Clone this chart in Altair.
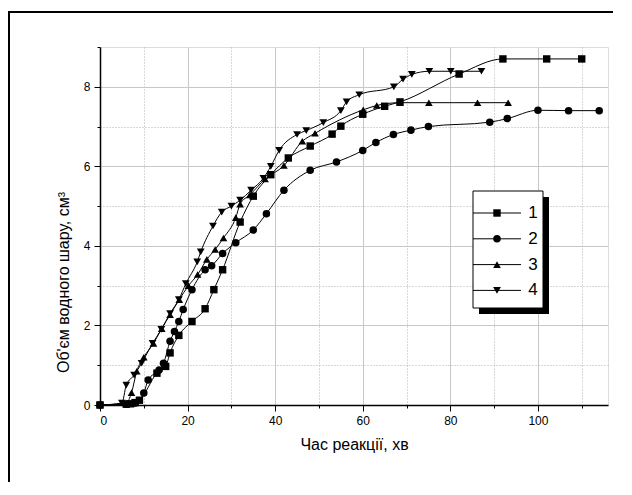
import altair as alt
import pandas as pd

# ---- data ----
x1 = [0, 6, 7, 8, 9, 13, 15, 16, 18, 21, 24, 26, 28, 32, 35, 39, 43, 48, 53, 55, 60, 65, 68.5, 82, 92, 102, 110]
y1 = [0, 0.02, 0.03, 0.06, 0.12, 0.8, 0.97, 1.31, 1.75, 2.1, 2.42, 2.9, 3.4, 4.6, 5.25, 5.79, 6.21, 6.51, 6.81, 7.01, 7.31, 7.51, 7.62, 8.32, 8.7, 8.7, 8.7]

x2 = [0, 6, 8, 10, 11, 13.5, 14.5, 16, 17, 18, 19, 21, 24, 25.5, 28, 31, 35, 38, 42, 48, 54, 60, 63, 67, 71, 75, 89, 93, 100, 107, 114]
y2 = [0, 0.02, 0.05, 0.3, 0.63, 0.88, 1.05, 1.6, 1.85, 2.1, 2.4, 2.9, 3.4, 3.5, 3.81, 4.08, 4.4, 4.81, 5.4, 5.9, 6.11, 6.4, 6.6, 6.8, 6.91, 7.0, 7.11, 7.2, 7.41, 7.4, 7.4]

x3 = [0, 6, 7.2, 8.4, 10, 12.2, 14.1, 16, 18.1, 20.2, 22.3, 24.4, 26.3, 28.2, 31, 32, 34.2, 37.7, 42, 46.2, 49.1, 60.1, 63.2, 68.5, 75.1, 86.2, 93.2]
y3 = [0, 0.05, 0.31, 0.85, 1.2, 1.55, 1.92, 2.27, 2.65, 3.0, 3.28, 3.66, 3.91, 4.2, 4.71, 5.05, 5.28, 5.68, 6.02, 6.63, 6.83, 7.42, 7.53, 7.6, 7.6, 7.6, 7.6]

x4 = [0, 5, 6, 7.8, 9.5, 12, 14, 16, 18, 19.6, 22.2, 23, 25.8, 27.8, 30, 32, 34.5, 37.3, 39, 40.9, 45, 47.1, 51, 55, 56.3, 59.2, 67.1, 69.2, 71.2, 75.2, 80.1, 87.1]
y4 = [0, 0.05, 0.5, 0.75, 1.05, 1.55, 1.9, 2.3, 2.65, 3.05, 3.6, 3.85, 4.5, 4.85, 5.0, 5.15, 5.4, 5.7, 6.0, 6.4, 6.8, 6.9, 7.1, 7.4, 7.62, 7.8, 8.0, 8.19, 8.31, 8.39, 8.39, 8.39]

series_names = ["1", "2", "3", "4"]
series_shapes = ["square", "circle", "triangle-up", "triangle-down"]
series_sizes = [55, 60, 100, 100]

x_title = "Час реакції, хв"
y_title = "Об'єм водного шару, см³"

FONT = "Liberation Sans"

W, H = 508, 358
PAD = {"left": 92, "top": 39, "right": 8, "bottom": 80}
X_MAX, Y_MAX = 116, 9

rows = []
for name, xs, ys in zip(series_names, [x1, x2, x3, x4], [y1, y2, y3, y4]):
    for i, (a, b) in enumerate(zip(xs, ys)):
        rows.append({"series": name, "t": a, "v": b, "order": i})
df = pd.DataFrame(rows)

x_scale = alt.Scale(domain=[0, X_MAX], nice=False, zero=False)
y_scale = alt.Scale(domain=[0, Y_MAX], nice=False, zero=False)
shape_scale = alt.Scale(domain=series_names, range=series_shapes)
size_scale = alt.Scale(domain=series_names, range=series_sizes)

x_axis = alt.Axis(
    values=list(range(0, 111, 10)),
    labelExpr="datum.value % 20 === 0 ? datum.label : ''",
    tickSize={"condition": {"test": "datum.value % 20 === 0", "value": 6}, "value": 3},
    gridDash={"condition": {"test": "datum.value % 20 === 0", "value": []}, "value": [1, 2]},
    gridColor={"condition": {"test": "datum.value % 20 === 0", "value": "#c8c8c8"}, "value": "#b0b0b0"},
    grid=True,
    domainColor="black", tickColor="black", domainWidth=1.5,
    labelFont=FONT, labelFontSize=12, labelColor="black", labelPadding=4,
    title=x_title, titleFont=FONT, titleFontSize=16, titleFontWeight="normal",
    titleColor="black", titlePadding=10,
)
y_axis = alt.Axis(
    values=list(range(0, 10)),
    labelExpr="datum.value % 2 === 0 ? datum.label : ''",
    tickSize={"condition": {"test": "datum.value % 2 === 0", "value": 6}, "value": 3},
    gridDash={"condition": {"test": "datum.value % 2 === 0", "value": []}, "value": [1, 2]},
    gridColor={"condition": {"test": "datum.value % 2 === 0", "value": "#c8c8c8"}, "value": "#b0b0b0"},
    gridOpacity={"condition": {"test": "datum.value === 9", "value": 0}, "value": 1},
    grid=True,
    domainColor="black", tickColor="black", domainWidth=1.5,
    labelFont=FONT, labelFontSize=12, labelColor="black", labelPadding=4,
    title=y_title, titleFont=FONT, titleFontSize=16, titleFontWeight="normal",
    titleColor="black", titlePadding=12, titleY=235,
)

X = lambda f: alt.X(f, scale=x_scale, axis=x_axis)
Y = lambda f: alt.Y(f, scale=y_scale, axis=y_axis)

base = alt.Chart(df)

lines = base.mark_line(color="black", strokeWidth=1, interpolate="monotone").encode(
    x=X("t:Q"), y=Y("v:Q"), detail="series:N", order="order:Q",
)

points = base.mark_point(filled=True, color="black", opacity=1).encode(
    x=X("t:Q"), y=Y("v:Q"),
    shape=alt.Shape("series:N", scale=shape_scale, legend=None),
    size=alt.Size("series:N", scale=size_scale, legend=None),
)

# frame around the figure (only its top and left edges fall inside the window);
# the lines stop a few pixels short of the chart edges
one = pd.DataFrame({"a": [0]})
frame_top = alt.Chart(one).mark_rule(color="black", strokeWidth=2).encode(
    x=alt.value(-91), x2=alt.value(W + PAD["right"] - 3), y=alt.value(-35)
)
frame_left = alt.Chart(one).mark_rule(color="black", strokeWidth=2).encode(
    x=alt.value(-91), y=alt.value(-36), y2=alt.value(H + PAD["bottom"] - 3)
)

# legend placed in data units (box with shadow, line sample + marker, label)
kx = X_MAX / W          # data units per pixel, x
ky = Y_MAX / H          # data units per pixel, y
bx0, bx1 = 373 * kx, 443 * kx
by0, by1 = Y_MAX - 144 * ky, Y_MAX - 261 * ky
box_df = pd.DataFrame({"t": [bx0], "t2": [bx1], "v": [by0], "v2": [by1]})
shadow_df = pd.DataFrame({"t": [bx0 + 6 * kx], "t2": [bx1 + 6 * kx],
                          "v": [by0 - 6 * ky], "v2": [by1 - 6 * ky]})

shadow = alt.Chart(shadow_df).mark_rect(fill="black").encode(
    x=X("t:Q"), x2="t2:Q", y=Y("v:Q"), y2="v2:Q"
)
box = alt.Chart(box_df).mark_rect(fill="white", stroke="black", strokeWidth=1).encode(
    x=X("t:Q"), x2="t2:Q", y=Y("v:Q"), y2="v2:Q"
)

leg_df = pd.DataFrame({
    "series": series_names,
    "v": [Y_MAX - (166 + 25.8 * i) * ky for i in range(len(series_names))],
})
leg_df["t"] = bx0
leg_df["t2"] = bx0 + 48 * kx
leg_df["tm"] = bx0 + 24 * kx
leg_df["tt"] = bx0 + 60 * kx

leg_lines = alt.Chart(leg_df).mark_rule(color="black", strokeWidth=1).encode(
    x=X("t:Q"), x2="t2:Q", y=Y("v:Q")
)
leg_pts = alt.Chart(leg_df).mark_point(filled=True, color="black", opacity=1).encode(
    x=X("tm:Q"), y=Y("v:Q"),
    shape=alt.Shape("series:N", scale=shape_scale, legend=None),
    size=alt.Size("series:N", scale=size_scale, legend=None),
)
leg_txt = alt.Chart(leg_df).mark_text(
    font=FONT, fontSize=17, color="black", align="center", baseline="middle"
).encode(
    x=X("tt:Q"), y=Y("v:Q"), text="series:N"
)

chart = alt.layer(frame_top, frame_left, lines, points, shadow, box, leg_lines, leg_pts, leg_txt).properties(
    width=W, height=H,
    autosize=alt.AutoSizeParams(type="none"),
    padding=PAD,
).configure_view(strokeWidth=0).configure(background="white")

chart.save("out.html", embed_options={"renderer": "svg", "actions": False})
